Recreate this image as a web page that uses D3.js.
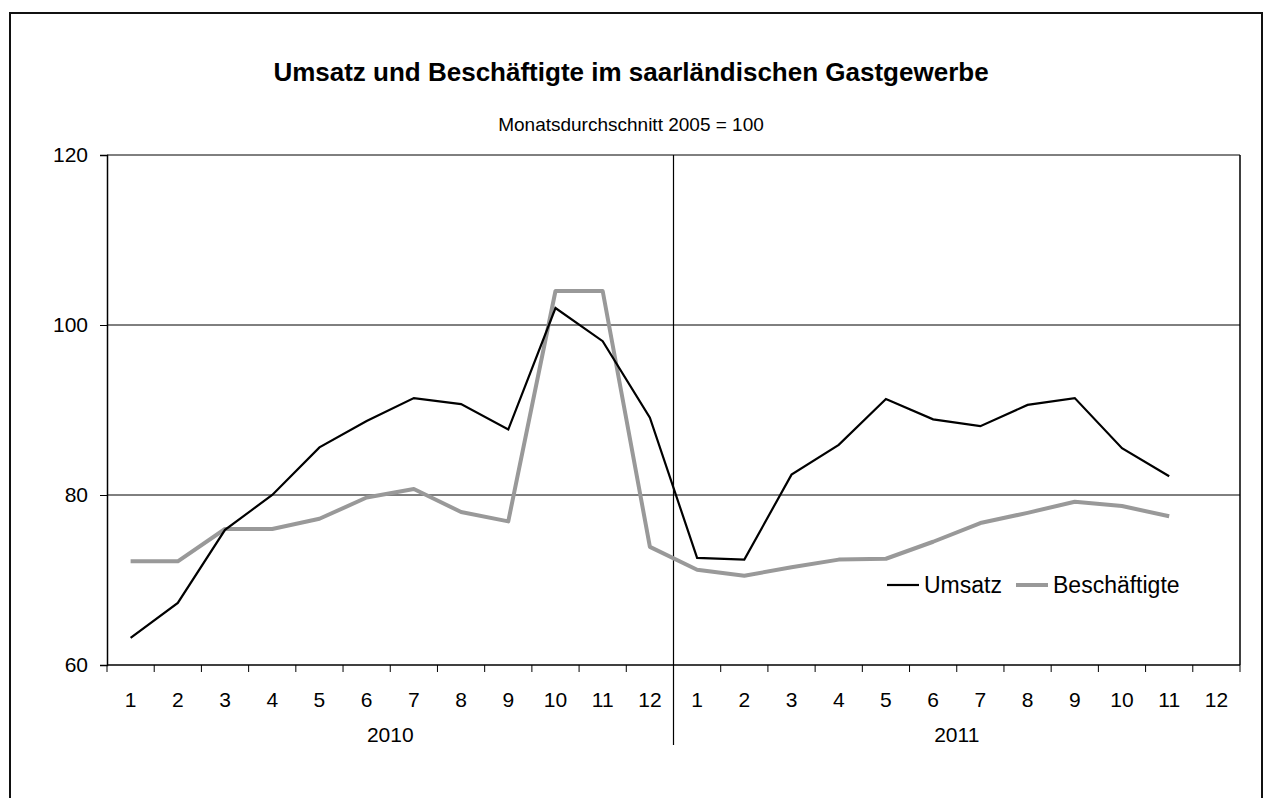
<!DOCTYPE html>
<html>
<head>
<meta charset="utf-8">
<script src="https://cdn.jsdelivr.net/npm/d3@7"></script>
<style>
  body { margin: 0; background: #fff; }
  text { font-family: "Liberation Sans", Arial, sans-serif; fill: #000; }
</style>
</head>
<body>
<div id="chart"></div>
<script>
const months = ["1","2","3","4","5","6","7","8","9","10","11","12"];
const years = ["2010", "2011"];
// Umsatz (2011-12 missing)
const umsatz = [63.2, 67.3, 75.9, 80.0, 85.6, 88.7, 91.4, 90.7, 87.7, 102.0, 98.1, 89.1,
                72.6, 72.4, 82.4, 85.9, 91.3, 88.9, 88.1, 90.6, 91.4, 85.5, 82.2, null];
const beschaeftigte = [72.2, 72.2, 76.0, 76.0, 77.2, 79.7, 80.7, 78.0, 76.9, 104.0, 104.0, 73.9,
                       71.2, 70.5, 71.5, 72.4, 72.5, 74.5, 76.7, 77.9, 79.2, 78.7, 77.5, null];
const yTicks = [60, 80, 100, 120];

const W = 1269, H = 798;
const margin = {top: 155, right: 29, bottom: 133, left: 107};
const width = W - margin.left - margin.right,
      height = H - margin.top - margin.bottom;

const svg = d3.select("#chart").append("svg")
    .attr("width", W).attr("height", H);

// outer frame (bottom runs off the page)
svg.append("rect")
    .attr("x", 10).attr("y", 13)
    .attr("width", 1252).attr("height", 800)
    .attr("fill", "none").attr("stroke", "#111").attr("stroke-width", 2);

svg.append("text")
    .attr("x", 631).attr("y", 81)
    .attr("text-anchor", "middle")
    .style("font-size", "26px").style("font-weight", "bold")
    .text("Umsatz und Beschäftigte im saarländischen Gastgewerbe");

svg.append("text")
    .attr("x", 631).attr("y", 131)
    .attr("text-anchor", "middle")
    .style("font-size", "19px")
    .text("Monatsdurchschnitt 2005 = 100");

const g = svg.append("g").attr("transform", `translate(${margin.left},${margin.top})`);

const keys = d3.range(24);
const x = d3.scaleBand().domain(keys).range([0, width]);
const y = d3.scaleLinear().domain([60, 120]).range([height, 0]);

// gridlines
g.selectAll(".grid").data(yTicks.slice(1))
  .enter().append("line")
    .attr("x1", 0).attr("x2", width)
    .attr("y1", d => y(d)).attr("y2", d => y(d))
    .attr("stroke", "#000").attr("stroke-width", 1);

// right border of plot
g.append("line")
    .attr("x1", width).attr("x2", width).attr("y1", 0).attr("y2", height)
    .attr("stroke", "#000").attr("stroke-width", 1.5);

// y axis
const yAxis = g.append("g")
    .call(d3.axisLeft(y).tickValues(yTicks).tickSize(7).tickPadding(12));
yAxis.select(".domain").attr("stroke-width", 1.5);
yAxis.selectAll("text").style("font-size", "21px")
    .style("font-family", "Liberation Sans, Arial, sans-serif");

// x axis baseline + ticks at band boundaries
g.append("line")
    .attr("x1", 0).attr("x2", width).attr("y1", height).attr("y2", height)
    .attr("stroke", "#000").attr("stroke-width", 1.5);

g.selectAll(".xtick").data(d3.range(25))
  .enter().append("line")
    .attr("x1", d => d < 24 ? x(d) : width)
    .attr("x2", d => d < 24 ? x(d) : width)
    .attr("y1", height).attr("y2", height + 7)
    .attr("stroke", "#000").attr("stroke-width", 1);

// year separator
g.append("line")
    .attr("x1", x(12)).attr("x2", x(12))
    .attr("y1", 0).attr("y2", height + 80)
    .attr("stroke", "#000").attr("stroke-width", 1.2);

g.selectAll(".mlabel").data(keys)
  .enter().append("text")
    .attr("x", d => x(d) + x.bandwidth() / 2)
    .attr("y", height + 42)
    .attr("text-anchor", "middle")
    .style("font-size", "21px")
    .text(d => months[d % 12]);

g.selectAll(".ylabel").data(years)
  .enter().append("text")
    .attr("x", (d, i) => x(i * 12) + x.bandwidth() * 6)
    .attr("y", height + 77)
    .attr("text-anchor", "middle")
    .style("font-size", "21px")
    .text(d => d);

const line = d3.line()
    .defined(d => d[1] != null)
    .x(d => x(d[0]) + x.bandwidth() / 2)
    .y(d => y(d[1]));

g.append("path")
    .datum(beschaeftigte.map((v, i) => [i, v]))
    .attr("d", line)
    .attr("fill", "none").attr("stroke", "#999").attr("stroke-width", 4)
    .attr("stroke-linejoin", "round");

g.append("path")
    .datum(umsatz.map((v, i) => [i, v]))
    .attr("d", line)
    .attr("fill", "none").attr("stroke", "#000").attr("stroke-width", 2.2);

// legend
const legend = [
  {name: "Umsatz", color: "#000", w: 2.2, x: 887},
  {name: "Beschäftigte", color: "#999", w: 4, x: 1016}
];
const lg = svg.selectAll(".legend").data(legend).enter().append("g");
lg.append("line")
    .attr("x1", d => d.x).attr("x2", d => d.x + 32)
    .attr("y1", 585).attr("y2", 585)
    .attr("stroke", d => d.color).attr("stroke-width", d => d.w);
lg.append("text")
    .attr("x", d => d.x + 37).attr("y", 593)
    .style("font-size", "23px")
    .text(d => d.name);
</script>
</body>
</html>
